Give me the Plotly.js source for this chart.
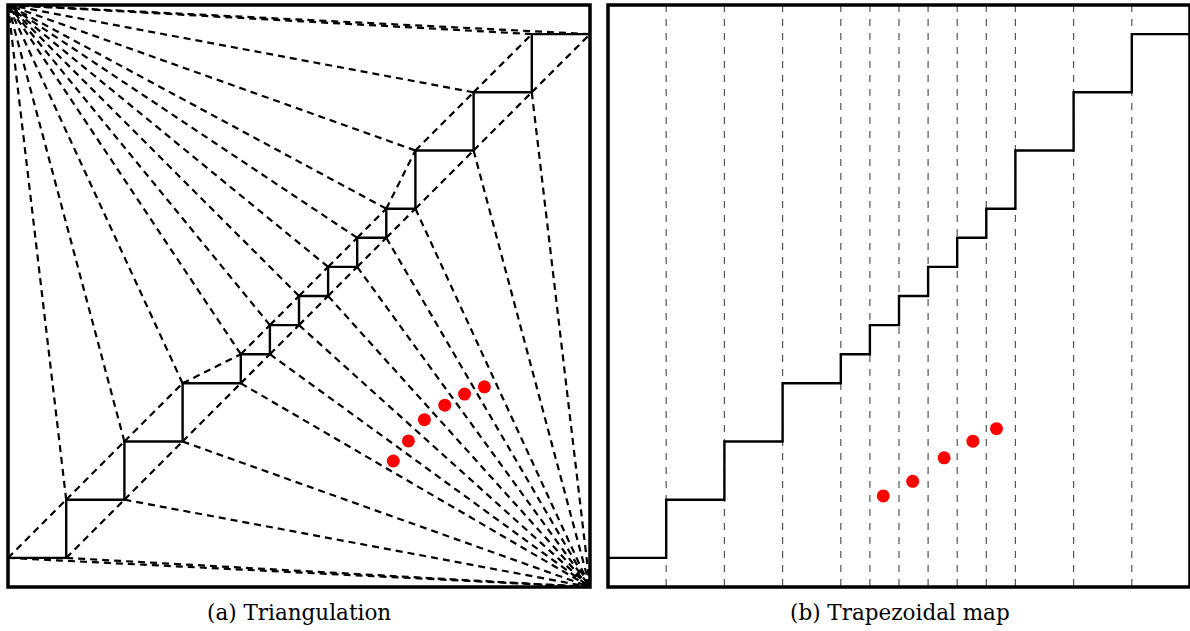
<!DOCTYPE html>
<html>
<head>
<meta charset="utf-8">
<script src="https://cdn.plot.ly/plotly-3.0.1.min.js"></script>
<style>
  html, body { margin: 0; padding: 0; background: #fff; }
  #chart { width: 1190px; height: 631px; }
</style>
</head>
<body>
<div id="chart"></div>
<script>
// ---- Data ----
// staircase breakpoints (x) and step levels (y)
var stepX = [0, 2, 4, 6, 8, 9, 10, 11, 12, 13, 14, 16, 18, 20];
var stepLevels = [1, 3, 5, 7, 8, 9, 10, 11, 12, 13, 15, 17, 19];
// box corners used as fan apexes
var topLeft = [0, 20];
var bottomRight = [20, 0];
// red query points
var triPointsX = [13.24, 13.76, 14.31, 15.01, 15.69, 16.37];
var triPointsY = [4.33, 5.02, 5.75, 6.25, 6.63, 6.88];
var trapPointsX = [9.46, 10.47, 11.55, 12.54, 13.35];
var trapPointsY = [3.13, 3.63, 4.44, 5.01, 5.44];
var captions = ['(a) Triangulation', '(b) Trapezoidal map'];

// ---- Derived geometry ----
var stairX = stepX.slice();
var stairY = stepLevels.concat([stepLevels[stepLevels.length - 1]]);

var upperX = [], upperY = [], lowerX = [], lowerY = [];
for (var i = 0; i < stepLevels.length; i++) {
  upperX.push(stepX[i]);     upperY.push(stepLevels[i]);
  lowerX.push(stepX[i + 1]); lowerY.push(stepLevels[i]);
}

var triX = [], triY = [];
function seg(ax, ay, bx, by) { triX.push(ax, bx, null); triY.push(ay, by, null); }
// fan to top-left corner from upper-left step corners and from last lower corner
for (var i = 1; i < upperX.length; i++) seg(upperX[i], upperY[i], topLeft[0], topLeft[1]);
seg(lowerX[lowerX.length - 1], lowerY[lowerY.length - 1], topLeft[0], topLeft[1]);
// fan to bottom-right corner from lower-right step corners and from first upper corner
for (var i = 0; i < lowerX.length - 1; i++) seg(lowerX[i], lowerY[i], bottomRight[0], bottomRight[1]);
seg(upperX[0], upperY[0], bottomRight[0], bottomRight[1]);
// chains
for (var i = 0; i < upperX.length - 1; i++) seg(upperX[i], upperY[i], upperX[i + 1], upperY[i + 1]);
for (var i = 0; i < lowerX.length - 1; i++) seg(lowerX[i], lowerY[i], lowerX[i + 1], lowerY[i + 1]);

var vX = [], vY = [];
for (var i = 1; i < stepX.length - 1; i++) { vX.push(stepX[i], stepX[i], null); vY.push(20, 0, null); }

var traces = [
  { x: triX, y: triY, xaxis: 'x', yaxis: 'y', mode: 'lines', hoverinfo: 'skip',
    line: { color: '#000', width: 2.2, dash: '7px,5px' } },
  { x: stairX, y: stairY, xaxis: 'x', yaxis: 'y', mode: 'lines', hoverinfo: 'skip',
    line: { color: '#000', width: 2.4, shape: 'hv' } },
  { x: triPointsX, y: triPointsY, xaxis: 'x', yaxis: 'y', mode: 'markers', hoverinfo: 'skip',
    marker: { color: '#ff0000', size: 13 } },
  { x: vX, y: vY, xaxis: 'x2', yaxis: 'y2', mode: 'lines', hoverinfo: 'skip',
    line: { color: '#555', width: 1.2, dash: '7px,7px' } },
  { x: stairX, y: stairY, xaxis: 'x2', yaxis: 'y2', mode: 'lines', hoverinfo: 'skip',
    line: { color: '#000', width: 2.4, shape: 'hv' } },
  { x: trapPointsX, y: trapPointsY, xaxis: 'x2', yaxis: 'y2', mode: 'markers', hoverinfo: 'skip',
    marker: { color: '#ff0000', size: 13 } }
];

var W = 1190, H = 631;
var yDom = [44 / H, 626 / H];
function ax(dom, anchor) {
  return { domain: dom, range: [0, 20], visible: false, fixedrange: true, anchor: anchor };
}
var layout = {
  width: W, height: H,
  margin: { l: 0, r: 0, t: 0, b: 0 },
  paper_bgcolor: '#fff', plot_bgcolor: 'rgba(0,0,0,0)',
  showlegend: false,
  xaxis: ax([8 / W, 590 / W], 'y'),
  yaxis: ax(yDom, 'x'),
  xaxis2: ax([608 / W, 1190 / W], 'y2'),
  yaxis2: ax(yDom, 'x2'),
  shapes: [
    { type: 'rect', xref: 'x domain', yref: 'y domain', x0: 0, x1: 1, y0: 0, y1: 1,
      line: { color: '#000', width: 3.5 }, layer: 'above' },
    { type: 'rect', xref: 'x2 domain', yref: 'y2 domain', x0: 0, x1: 1, y0: 0, y1: 1,
      line: { color: '#000', width: 3.5 }, layer: 'above' }
  ],
  annotations: [
    { text: captions[0], xref: 'paper', yref: 'paper', x: 299 / W, y: (H - 612) / H,
      xanchor: 'center', yanchor: 'middle', showarrow: false,
      font: { family: 'DejaVu Serif', size: 21.5, color: '#000' } },
    { text: captions[1], xref: 'paper', yref: 'paper', x: 900 / W, y: (H - 612) / H,
      xanchor: 'center', yanchor: 'middle', showarrow: false,
      font: { family: 'DejaVu Serif', size: 21.5, color: '#000' } }
  ]
};
Plotly.newPlot('chart', traces, layout, { staticPlot: true, displayModeBar: false });
</script>
</body>
</html>
